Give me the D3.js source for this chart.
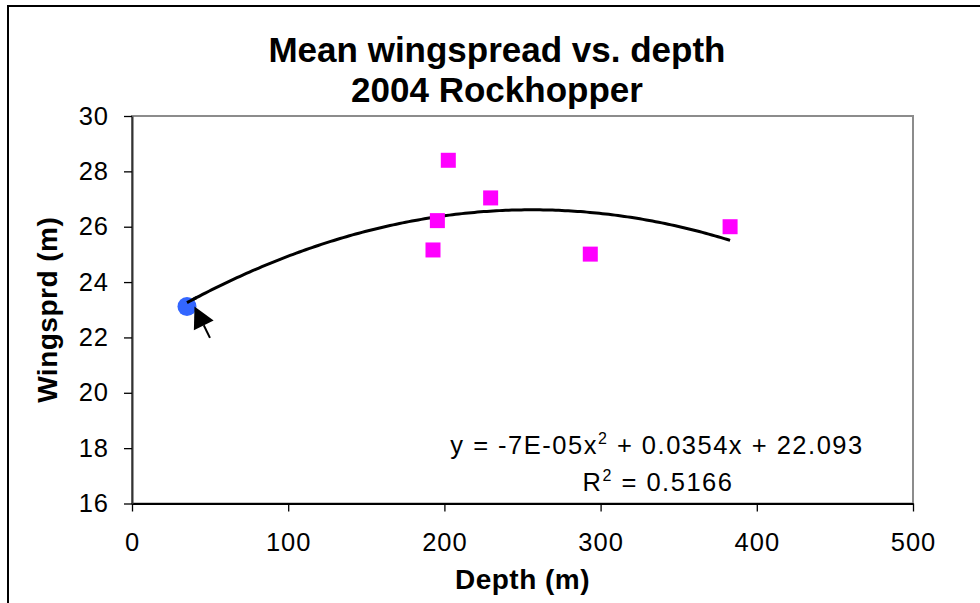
<!DOCTYPE html>
<html>
<head>
<meta charset="utf-8">
<script src="https://cdn.jsdelivr.net/npm/d3@7"></script>
<style>
    body { margin: 0; background: #fff; }
    text { font-family: "Liberation Sans", Arial, sans-serif; fill: #000; }
</style>
</head>
<body>
<div id="chart"></div>
<script>
// values
const depth = [35.2, 202.5, 229.6, 195.5, 192.7, 293.4, 382.9];
const wingspread = [23.12, 28.40, 27.04, 26.22, 25.16, 25.01, 26.00];
const pointKind = ["start", "obs", "obs", "obs", "obs", "obs", "obs"];
const xTicks = [0, 100, 200, 300, 400, 500];
const yTicks = [16, 18, 20, 22, 24, 26, 28, 30];
const titleLines = ["Mean wingspread vs. depth", "2004 Rockhopper"];
const eqLabel = ["y = -7E-05x", "2", " + 0.0354x + 22.093"];
const r2Label = ["R", "2", " = 0.5166"];

let W = 980, H = 603;
let margin = {top: 116, right: 67, bottom: 99.5, left: 132};
let width = W - margin.left - margin.right;
let height = H - margin.top - margin.bottom;

let svg = d3.select("#chart").append("svg")
    .attr("width", W)
    .attr("height", H);

// chart frame (runs off the right/bottom edge like the screenshot)
svg.append("rect")
    .attr("x", 8).attr("y", 6)
    .attr("width", 1000).attr("height", 1000)
    .attr("fill", "none")
    .attr("stroke", "#000")
    .attr("stroke-width", 2);

let g = svg.append("g")
    .attr("transform", `translate(${margin.left},${margin.top})`);

let x = d3.scaleLinear().domain([0, 500]).range([0, width]);
let y = d3.scaleLinear().domain([16, 30]).range([height, 0]);

// plot area border (grey top / right)
g.append("rect")
    .attr("width", width).attr("height", height)
    .attr("fill", "none")
    .attr("stroke", "#8c8c8c")
    .attr("stroke-width", 2);

// axes
let xAxis = g.append("g")
    .attr("transform", `translate(0,${height})`)
    .call(d3.axisBottom(x).tickValues(xTicks).tickSize(8).tickSizeOuter(0).tickPadding(21));
let yAxis = g.append("g")
    .call(d3.axisLeft(y).tickValues(yTicks).tickSize(8).tickSizeOuter(0).tickPadding(15));

[xAxis, yAxis].forEach(a => {
    a.select(".domain").attr("stroke", "#000").attr("stroke-width", 2);
    a.selectAll(".tick line").attr("stroke", "#000").attr("stroke-width", 1.3);
    a.selectAll(".tick text")
        .attr("font-family", "Liberation Sans, Arial, sans-serif")
        .attr("font-size", 25.5)
        .attr("letter-spacing", 1)
        .attr("fill", "#000");
});
yAxis.select(".domain").attr("stroke", "#333");

// quadratic least squares trendline from the points
function quadFit(xs, ys) {
    let s = [0, 0, 0, 0, 0], t = [0, 0, 0];
    xs.forEach((xv, i) => {
        for (let k = 0; k < 5; k++) s[k] += Math.pow(xv, k);
        for (let k = 0; k < 3; k++) t[k] += Math.pow(xv, k) * ys[i];
    });
    let A = [[s[0], s[1], s[2], t[0]], [s[1], s[2], s[3], t[1]], [s[2], s[3], s[4], t[2]]];
    for (let i = 0; i < 3; i++) {
        for (let j = i + 1; j < 3; j++) {
            let f = A[j][i] / A[i][i];
            for (let k = i; k < 4; k++) A[j][k] -= f * A[i][k];
        }
    }
    let c = [0, 0, 0];
    for (let i = 2; i >= 0; i--) {
        let v = A[i][3];
        for (let k = i + 1; k < 3; k++) v -= A[i][k] * c[k];
        c[i] = v / A[i][i];
    }
    return c; // c0 + c1 x + c2 x^2
}
let coef = quadFit(depth, wingspread);
let x0 = d3.min(depth), x1 = d3.max(depth);
let trend = d3.range(x0, x1, 2).concat([x1]).map(d => [d, coef[0] + coef[1] * d + coef[2] * d * d]);

g.append("path")
    .datum(trend)
    .attr("fill", "none")
    .attr("stroke", "#000")
    .attr("stroke-width", 3)
    .attr("stroke-linejoin", "round")
    .attr("d", d3.line().x(d => x(d[0])).y(d => y(d[1])));

// points
let pts = depth.map((d, i) => ({x: d, y: wingspread[i], kind: pointKind[i]}));
let sq = 15;
g.selectAll(".sq")
    .data(pts.filter(d => d.kind == "obs"))
    .enter()
    .append("rect")
    .attr("class", "sq")
    .attr("x", d => x(d.x) - sq / 2)
    .attr("y", d => y(d.y) - sq / 2)
    .attr("width", sq).attr("height", sq)
    .attr("fill", "#ff00ff");

let start = pts.filter(d => d.kind == "start")[0];
g.append("circle")
    .attr("cx", x(start.x))
    .attr("cy", y(start.y))
    .attr("r", 9.5)
    .attr("fill", "#3366ff");
// redraw the first bit of trendline over the dot
g.append("path")
    .datum(trend.slice(0, 4))
    .attr("fill", "none")
    .attr("stroke", "#000")
    .attr("stroke-width", 3)
    .attr("d", d3.line().x(d => x(d[0])).y(d => y(d[1])));

// arrow pointing at the start point
let tip = [x(start.x) + 7.5, y(start.y)];
let tail = [x(start.x) + 23, y(start.y) + 31.5];
let dx = tip[0] - tail[0], dy = tip[1] - tail[1];
let len = Math.sqrt(dx * dx + dy * dy);
let ux = dx / len, uy = dy / len;
let headLen = 21, headW = 11;
let base = [tip[0] - ux * headLen, tip[1] - uy * headLen];
g.append("line")
    .attr("x1", tail[0]).attr("y1", tail[1])
    .attr("x2", base[0]).attr("y2", base[1])
    .attr("stroke", "#000").attr("stroke-width", 2);
g.append("path")
    .attr("d", d3.line()([
        tip,
        [base[0] - uy * headW, base[1] + ux * headW],
        [base[0] + uy * headW, base[1] - ux * headW]
    ]) + "Z")
    .attr("fill", "#000");

// trendline label
function supText(parent, parts, cx, cy) {
    let t = parent.append("text")
        .attr("x", cx).attr("y", cy)
        .attr("text-anchor", "middle")
        .attr("font-size", 25.5)
        .attr("letter-spacing", 1.5);
    t.append("tspan").text(parts[0]);
    t.append("tspan").attr("font-size", 16).attr("dy", -10).text(parts[1]);
    t.append("tspan").attr("dy", 10).text(parts[2]);
}
supText(svg, eqLabel, 657, 453.5);
supText(svg, r2Label, 658, 490.5);

// title
svg.selectAll(".title")
    .data(titleLines)
    .enter()
    .append("text")
    .attr("class", "title")
    .attr("x", 497)
    .attr("y", (d, i) => 61.5 + i * 40.5)
    .attr("text-anchor", "middle")
    .attr("font-size", 35)
    .attr("font-weight", "bold")
    .text(d => d);

// axis titles
svg.append("text")
    .attr("x", margin.left + width / 2)
    .attr("y", 588.5)
    .attr("text-anchor", "middle")
    .attr("font-size", 28)
    .attr("font-weight", "bold")
    .attr("letter-spacing", 0.5)
    .text("Depth (m)");

svg.append("text")
    .attr("transform", `translate(56.5,${margin.top + height / 2}) rotate(-90)`)
    .attr("text-anchor", "middle")
    .attr("font-size", 28)
    .attr("font-weight", "bold")
    .attr("letter-spacing", 0.5)
    .text("Wingsprd (m)");
</script>
</body>
</html>
